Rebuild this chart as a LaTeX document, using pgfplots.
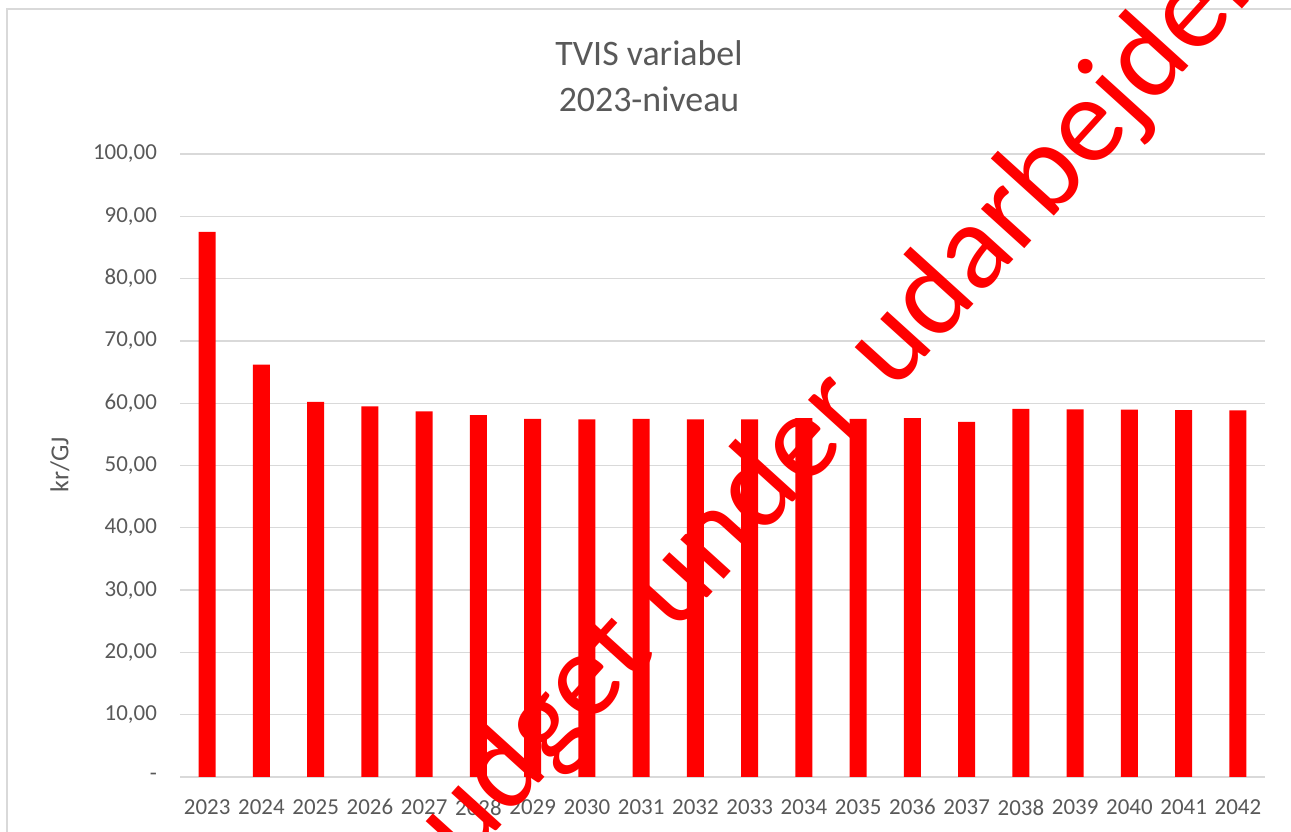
\documentclass[border=0pt]{standalone}
\usepackage{fontspec}
\setmainfont{Carlito}
\usepackage{pgfplots}
\pgfplotsset{compat=1.18}
\definecolor{txt}{HTML}{595959}
\definecolor{grd}{HTML}{D9D9D9}
\begin{document}
\begin{tikzpicture}[x=1bp,y=1bp]
\useasboundingbox (0,0) rectangle (1291,832);
\begin{scope}
\clip (0,0) rectangle (1291,832);
\fill[white] (0,0) rectangle (1291,832);
\draw[grd, line width=1.5bp] (7,-5) -- (7,823) -- (1300,823);
\begin{axis}[
  at={(180bp,55bp)}, anchor=south west,
  scale only axis, width=1085bp, height=623bp,
  xmin=-0.5, xmax=19.5, ymin=0, ymax=100,
  ybar, bar width=17bp,
  xtick={0,1,...,19},
  xticklabels={2023,2024,2025,2026,2027,2028,2029,2030,2031,2032,2033,2034,2035,2036,2037,2038,2039,2040,2041,2042},
  ytick={0,10,...,100},
  yticklabels={{-\hspace{11bp}},{10,00},{20,00},{30,00},{40,00},{50,00},{60,00},{70,00},{80,00},{90,00},{100,00}},
  ymajorgrids, grid style={grd, line width=1.3bp},
  axis line style={draw=none},
  major tick length=0pt,
  tick label style={font=\fontsize{23}{27}\selectfont, text=txt},
  xticklabel style={yshift=-19bp},
  yticklabel style={xshift=-19.6bp},
  /pgf/number format/assume math mode=true,
  clip=false,
]
\addplot[fill=red, draw=none] coordinates {
(0,87.5) (1,66.2) (2,60.2) (3,59.5) (4,58.7) (5,58.1) (6,57.5) (7,57.4) (8,57.5) (9,57.4)
(10,57.4) (11,57.6) (12,57.5) (13,57.6) (14,57.0) (15,59.1) (16,59.0) (17,58.95) (18,58.9) (19,58.85)
};
\end{axis}
\node[text=txt, font=\fontsize{36}{42}\selectfont, anchor=base] at (649,766) {TVIS variabel};
\node[text=txt, font=\fontsize{36}{42}\selectfont, anchor=base] at (649,720) {2023-niveau};
\node[text=txt, font=\fontsize{26}{30}\selectfont, rotate=90] at (60,367) {kr/GJ};
\node[rotate=47.8, anchor=base west, text=red, font=\fontsize{123}{146}\selectfont, inner sep=0pt] at (421,-82) {budget under udarbejdelse};
\end{scope}
\end{tikzpicture}
\end{document}
